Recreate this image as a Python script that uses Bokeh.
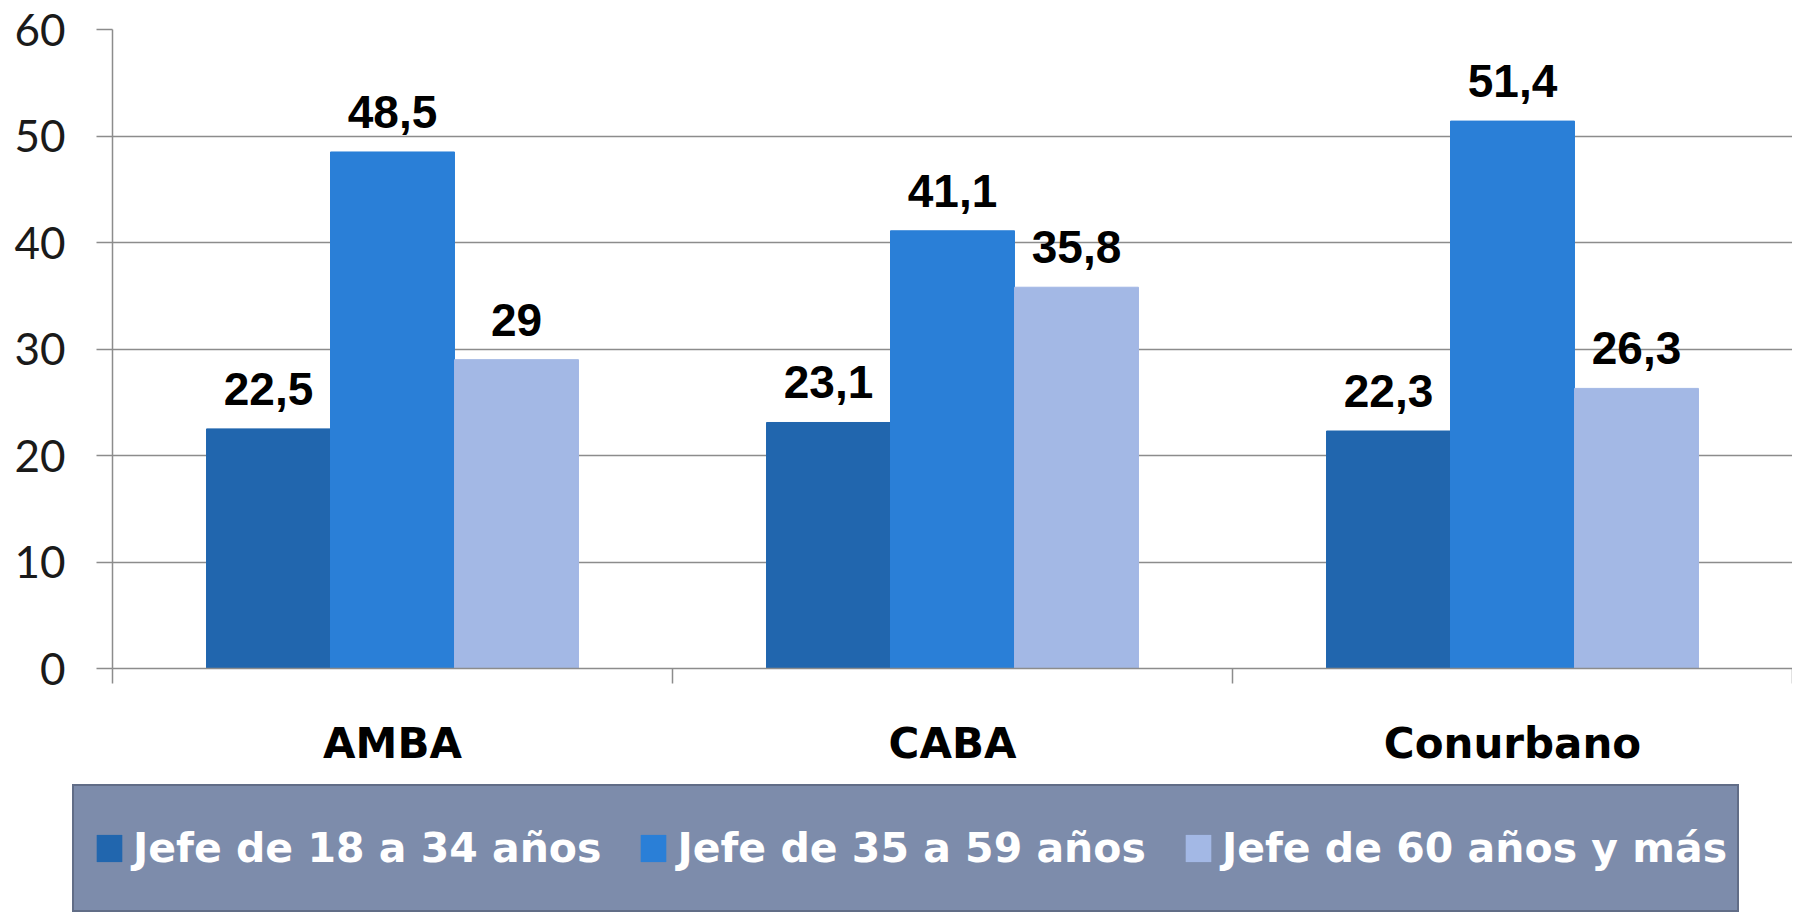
from bokeh.plotting import figure
from bokeh.models import (FactorRange, Range1d, LinearAxis, CategoricalAxis, FixedTicker,
                          ColumnDataSource, Legend, LegendItem, Spacer)
from bokeh.layouts import column, row
from bokeh.transform import dodge
from bokeh.core.properties import value
from bokeh.embed import file_html
from bokeh.resources import INLINE

categories = ["AMBA", "CABA", "Conurbano"]
series_names = ["Jefe de 18 a 34 años", "Jefe de 35 a 59 años", "Jefe de 60 años y más"]
jefe_18_34 = [22.5, 23.1, 22.3]
jefe_35_59 = [48.5, 41.1, 51.4]
jefe_60_mas = [29.0, 35.8, 26.3]
y_ticks = [0, 10, 20, 30, 40, 50, 60]

colors = ["#2166ae", "#2a7fd7", "#a3b8e5"]


def fmt(v):
    s = ("%.1f" % v).rstrip("0").rstrip(".")
    return s.replace(".", ",")


W = 1792
H_MAIN = 784
H_LEG = 128

p = figure(width=W, height=H_MAIN, x_range=FactorRange(*categories, range_padding=0),
           y_range=Range1d(0, 60), x_axis_location=None, y_axis_location=None,
           output_backend="svg", toolbar_location=None,
           min_border_left=112, min_border_right=0, min_border_top=29, min_border_bottom=116)
p.outline_line_color = None
p.background_fill_color = "white"
p.border_fill_color = "white"

# y axis
yaxis = LinearAxis(ticker=FixedTicker(ticks=y_ticks))
yaxis.axis_line_color = "#8c8c8c"
yaxis.axis_line_width = 1.5
yaxis.major_tick_line_color = "#8c8c8c"
yaxis.major_tick_line_width = 1.5
yaxis.major_tick_out = 16
yaxis.major_tick_in = 0
yaxis.minor_tick_line_color = None
yaxis.major_label_text_font = "Lato"
yaxis.major_label_text_font_size = "44px"
yaxis.major_label_text_color = "#1a1a1a"
yaxis.major_label_standoff = 31
p.add_layout(yaxis, "left")

p.ygrid.grid_line_color = "#8c8c8c"
p.ygrid.grid_line_width = 1.5
p.ygrid.ticker = FixedTicker(ticks=y_ticks)
p.xgrid.grid_line_color = None

# boundary ticks axis (category separators) in the factor range's synthetic coordinates
bticks = list(range(len(categories) + 1))
baxis = LinearAxis(ticker=FixedTicker(ticks=bticks))
baxis.axis_line_color = "#8c8c8c"
baxis.axis_line_width = 1.5
baxis.major_tick_line_color = "#8c8c8c"
baxis.major_tick_line_width = 1.5
baxis.major_tick_out = 15
baxis.major_tick_in = 0
baxis.minor_tick_line_color = None
baxis.major_label_overrides = {t: "" for t in bticks}
baxis.major_label_standoff = 0
baxis.major_label_text_font_size = "1px"
p.add_layout(baxis, "below")

# category labels axis
caxis = CategoricalAxis()
caxis.axis_line_color = None
caxis.major_tick_line_color = None
caxis.major_tick_out = 0
caxis.major_tick_in = 0
caxis.major_label_text_font = "DejaVu Sans"
caxis.major_label_text_font_style = "bold"
caxis.major_label_text_font_size = "42px"
caxis.major_label_text_color = "#000000"
caxis.major_label_standoff = 35
p.add_layout(caxis, "below")

src = ColumnDataSource(dict(
    cat=categories,
    s0=jefe_18_34, s1=jefe_35_59, s2=jefe_60_mas,
    l0=[fmt(v) for v in jefe_18_34],
    l1=[fmt(v) for v in jefe_35_59],
    l2=[fmt(v) for v in jefe_60_mas],
))

bw = 0.2214
offsets = [-bw, 0.0, bw]
for i in range(3):
    p.vbar(x=dodge("cat", offsets[i], range=p.x_range), top="s%d" % i, width=bw,
           source=src, fill_color=colors[i], line_color=colors[i], line_width=1)
    p.text(x=dodge("cat", offsets[i], range=p.x_range), y="s%d" % i, text="l%d" % i,
           source=src, text_align="center", text_baseline="alphabetic", y_offset=-40,
           text_font=value("Liberation Sans"), text_font_style="bold",
           text_font_size="46px", text_color="#000000")

# legend panel (separate figure below the chart)
lf = figure(width=1667, height=H_LEG, x_range=Range1d(0, 1), y_range=Range1d(0, 1),
            x_axis_location=None, y_axis_location=None,
            output_backend="svg", toolbar_location=None,
            min_border_left=0, min_border_right=0, min_border_top=0, min_border_bottom=0)
lf.xgrid.visible = False
lf.ygrid.visible = False
lf.background_fill_color = "#7d8cab"
lf.border_fill_color = "#7d8cab"
lf.outline_line_color = "#616d87"
lf.outline_line_width = 3

# zero-size proxy bars that only provide the legend swatches
proxy = ColumnDataSource(dict(x=[0.5], top=[0.0]))
leg_renderers = []
for i in range(3):
    r = lf.vbar(x="x", top="top", bottom=0, width=0, source=proxy,
                fill_color=colors[i], line_color=None)
    leg_renderers.append(r)

legend = Legend(items=[LegendItem(label=series_names[i], renderers=[leg_renderers[i]]) for i in range(3)],
                orientation="horizontal", location="center_left")
legend.padding = 0
legend.margin = 21
legend.spacing = 36
legend.glyph_width = 32
legend.glyph_height = 34
legend.label_standoff = 8
legend.label_text_font = "DejaVu Sans"
legend.label_text_font_style = "bold"
legend.label_text_font_size = "41px"
legend.label_text_color = "white"
legend.background_fill_alpha = 0
legend.border_line_alpha = 0
lf.add_layout(legend, "center")

layout = column(p, row(Spacer(width=72, height=H_LEG), lf, spacing=0), spacing=0)

open("out.html", "w").write(file_html(layout, INLINE))
